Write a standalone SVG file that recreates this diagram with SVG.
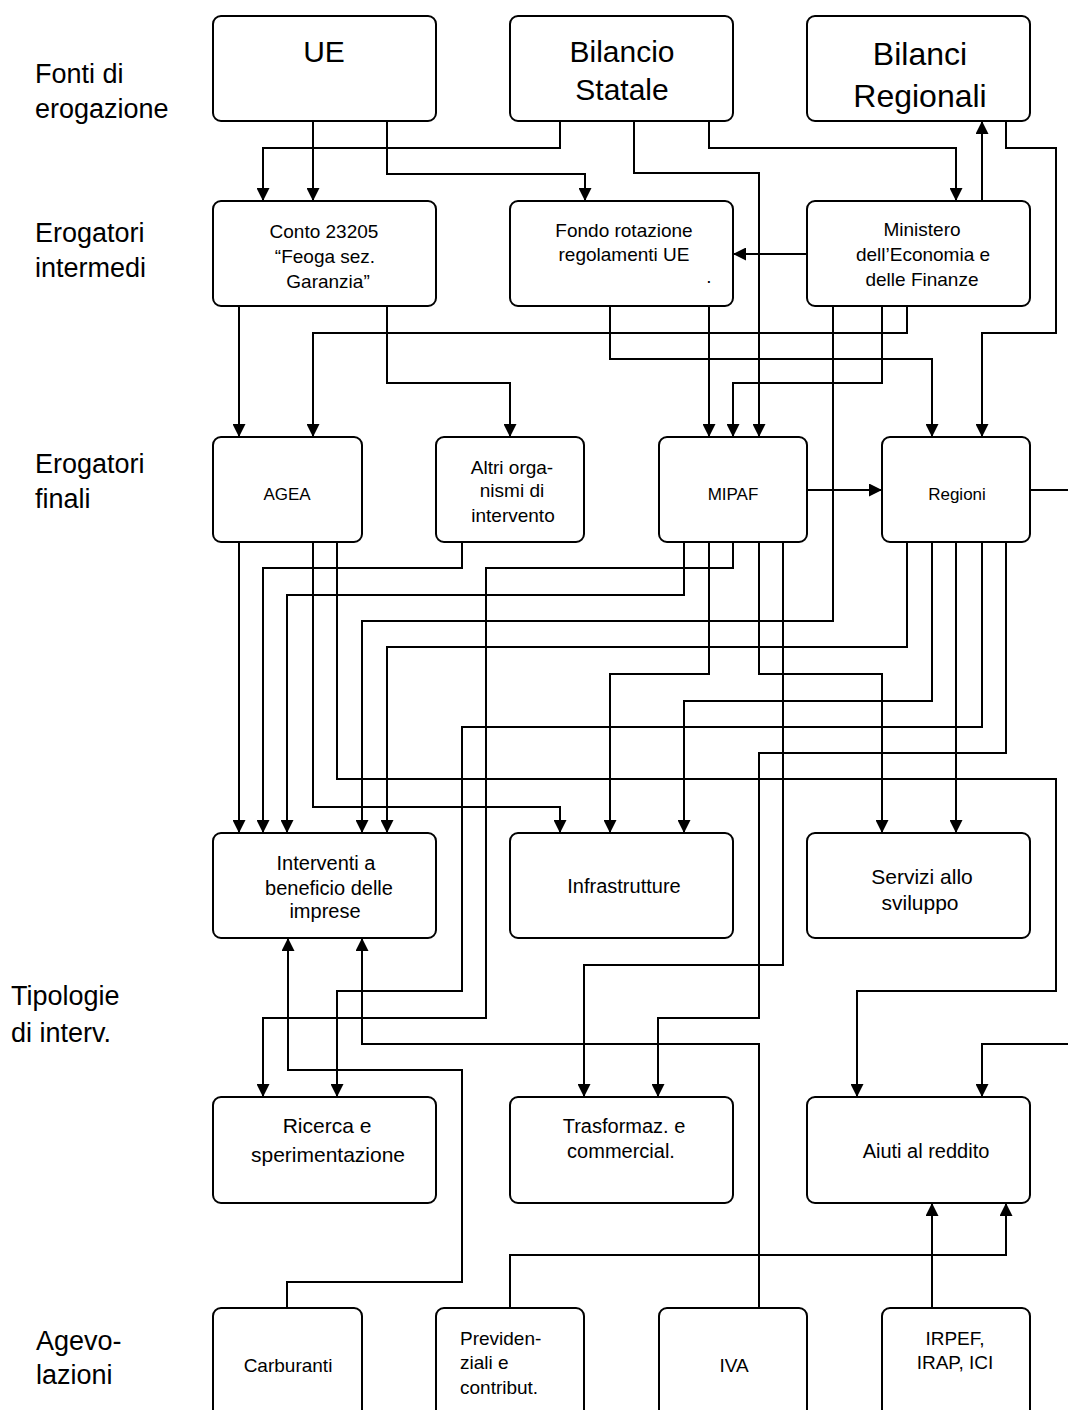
<svg xmlns="http://www.w3.org/2000/svg" width="1068" height="1410" viewBox="0 0 1068 1410">
  <style>
    .box { fill: #ffffff; stroke: #000000; stroke-width: 2; }
    .wire { fill: none; stroke: #000000; stroke-width: 2; }
    .arr { marker-end: url(#head); }
    text { font-family: "Liberation Sans", Arial, sans-serif; fill: #000000; }
    .lbl { font-size: 27px; }
    .big { font-size: 30px; text-anchor: middle; }
    .big2 { font-size: 32px; text-anchor: middle; }
    .mid { font-size: 19px; text-anchor: middle; }
    .sm { font-size: 17px; text-anchor: middle; }
    .t20 { font-size: 20px; text-anchor: middle; }
    .t21 { font-size: 21px; text-anchor: middle; }
  </style>
  <defs>
    <marker id="head" viewBox="0 0 13 13" markerWidth="13" markerHeight="13" refX="13" refY="6.5" orient="auto" markerUnits="userSpaceOnUse">
      <path d="M0,0 L13,6.5 L0,13 z" fill="#000000"/>
    </marker>
  </defs>

  <rect width="1068" height="1410" fill="#ffffff"/>

  <!-- row labels -->
  <g id="row-labels">
    <text class="lbl" x="35" y="83">Fonti di</text>
    <text class="lbl" x="35" y="118">erogazione</text>
    <text class="lbl" x="35" y="242">Erogatori</text>
    <text class="lbl" x="35" y="277">intermedi</text>
    <text class="lbl" x="35" y="473">Erogatori</text>
    <text class="lbl" x="35" y="508">finali</text>
    <text class="lbl" x="11" y="1005">Tipologie</text>
    <text class="lbl" x="11" y="1042">di interv.</text>
    <text class="lbl" x="36" y="1350">Agevo-</text>
    <text class="lbl" x="36" y="1384">lazioni</text>
  </g>

  <!-- connectors -->
  <g id="connectors">
    <path class="wire arr" d="M313,121 V201"/>
    <path class="wire arr" d="M560,121 V148 H263 V201"/>
    <path class="wire arr" d="M387,121 V174 H585 V201"/>
    <path class="wire arr" d="M634,121 V173 H759 V437"/>
    <path class="wire arr" d="M709,121 V148 H956 V201"/>
    <path class="wire arr" d="M982,201 V121"/>
    <path class="wire arr" d="M1006,121 V148 H1056 V333 H982 V437"/>
    <path class="wire arr" d="M807,254 H733"/>

    <path class="wire arr" d="M239,306 V437"/>
    <path class="wire arr" d="M387,306 V383 H510 V437"/>
    <path class="wire arr" d="M907,306 V333 H313 V437"/>
    <path class="wire arr" d="M610,306 V359 H932 V437"/>
    <path class="wire arr" d="M709,306 V437"/>
    <path class="wire arr" d="M882,306 V383 H733 V437"/>
    <path class="wire arr" d="M833,306 V621 H362 V833"/>
    <path class="wire arr" d="M807,490 H882"/>
    <path class="wire" d="M1030,490 H1068"/>

    <path class="wire arr" d="M239,542 V833"/>
    <path class="wire arr" d="M462,542 V568 H263 V833"/>
    <path class="wire arr" d="M733,542 V568 H486 V1018 H263 V1097"/>
    <path class="wire arr" d="M684,542 V595 H287 V833"/>
    <path class="wire arr" d="M907,542 V647 H387 V833"/>
    <path class="wire arr" d="M709,542 V674 H610 V833"/>
    <path class="wire arr" d="M759,542 V674 H882 V833"/>
    <path class="wire arr" d="M932,542 V701 H684 V833"/>
    <path class="wire arr" d="M956,542 V833"/>
    <path class="wire arr" d="M982,542 V727 H462 V991 H337 V1097"/>
    <path class="wire arr" d="M1006,542 V753 H759 V1018 H658 V1097"/>
    <path class="wire arr" d="M783,542 V965 H584 V1097"/>
    <path class="wire arr" d="M337,542 V779 H1056 V991 H857 V1097"/>
    <path class="wire arr" d="M313,542 V807 H560 V833"/>
    <path class="wire arr" d="M1068,1044 H982 V1097"/>

    <path class="wire arr" d="M287,1308 V1282 H462 V1070 H288 V938"/>
    <path class="wire arr" d="M759,1308 V1044 H362 V938"/>
    <path class="wire arr" d="M510,1308 V1255 H1006 V1203"/>
    <path class="wire arr" d="M932,1308 V1203"/>
  </g>

  <!-- sources -->
  <g id="ue">
    <rect class="box" x="213" y="16" width="223" height="105" rx="8"/>
    <text class="big" x="324" y="62">UE</text>
  </g>
  <g id="bilancio-statale">
    <rect class="box" x="510" y="16" width="223" height="105" rx="8"/>
    <text class="big" x="622" y="62">Bilancio</text>
    <text class="big" x="622" y="100">Statale</text>
  </g>
  <g id="bilanci-regionali">
    <rect class="box" x="807" y="16" width="223" height="105" rx="8"/>
    <text class="big2" x="920" y="65">Bilanci</text>
    <text class="big2" x="920" y="107">Regionali</text>
  </g>

  <!-- intermediate payers -->
  <g id="conto-23205">
    <rect class="box" x="213" y="201" width="223" height="105" rx="8"/>
    <text class="mid" x="324" y="238">Conto 23205</text>
    <text class="mid" x="325" y="263">“Feoga sez.</text>
    <text class="mid" x="328" y="288">Garanzia”</text>
  </g>
  <g id="fondo-rotazione">
    <rect class="box" x="510" y="201" width="223" height="105" rx="8"/>
    <text class="mid" x="624" y="237">Fondo rotazione</text>
    <text class="mid" x="624" y="261">regolamenti UE</text>
    <text class="mid" x="709" y="283">.</text>
  </g>
  <g id="ministero">
    <rect class="box" x="807" y="201" width="223" height="105" rx="8"/>
    <text class="mid" x="922" y="236">Ministero</text>
    <text class="mid" x="923" y="261">dell’Economia e</text>
    <text class="mid" x="922" y="286">delle Finanze</text>
  </g>

  <!-- final payers -->
  <g id="agea">
    <rect class="box" x="213" y="437" width="149" height="105" rx="8"/>
    <text class="sm" x="287" y="500">AGEA</text>
  </g>
  <g id="altri-organismi">
    <rect class="box" x="436" y="437" width="148" height="105" rx="8"/>
    <text class="mid" x="512" y="474">Altri orga-</text>
    <text class="mid" x="512" y="497">nismi di</text>
    <text class="mid" x="513" y="522">intervento</text>
  </g>
  <g id="mipaf">
    <rect class="box" x="659" y="437" width="148" height="105" rx="8"/>
    <text class="sm" x="733" y="500">MIPAF</text>
  </g>
  <g id="regioni">
    <rect class="box" x="882" y="437" width="148" height="105" rx="8"/>
    <text class="sm" x="957" y="500">Regioni</text>
  </g>

  <!-- intervention types -->
  <g id="interventi-imprese">
    <rect class="box" x="213" y="833" width="223" height="105" rx="8"/>
    <text class="t20" x="326" y="870">Interventi a</text>
    <text class="t20" x="329" y="895">beneficio delle</text>
    <text class="t20" x="325" y="918">imprese</text>
  </g>
  <g id="infrastrutture">
    <rect class="box" x="510" y="833" width="223" height="105" rx="8"/>
    <text class="t20" x="624" y="893">Infrastrutture</text>
  </g>
  <g id="servizi-sviluppo">
    <rect class="box" x="807" y="833" width="223" height="105" rx="8"/>
    <text class="t21" x="922" y="884">Servizi allo</text>
    <text class="t21" x="920" y="910">sviluppo</text>
  </g>
  <g id="ricerca">
    <rect class="box" x="213" y="1097" width="223" height="106" rx="8"/>
    <text class="t21" x="327" y="1133">Ricerca e</text>
    <text class="t21" x="328" y="1162">sperimentazione</text>
  </g>
  <g id="trasformazione">
    <rect class="box" x="510" y="1097" width="223" height="106" rx="8"/>
    <text class="t20" x="624" y="1133">Trasformaz. e</text>
    <text class="t20" x="621" y="1158">commercial.</text>
  </g>
  <g id="aiuti-reddito">
    <rect class="box" x="807" y="1097" width="223" height="106" rx="8"/>
    <text class="t20" x="926" y="1158">Aiuti al reddito</text>
  </g>

  <!-- tax and contribution relief -->
  <g id="carburanti">
    <rect class="box" x="213" y="1308" width="149" height="110" rx="8"/>
    <text class="mid" x="288" y="1372">Carburanti</text>
  </g>
  <g id="previdenziali">
    <rect class="box" x="436" y="1308" width="148" height="110" rx="8"/>
    <text class="mid" x="460" y="1345" text-anchor="start" style="text-anchor:start">Previden-</text>
    <text class="mid" x="460" y="1369" style="text-anchor:start">ziali e</text>
    <text class="mid" x="460" y="1394" style="text-anchor:start">contribut.</text>
  </g>
  <g id="iva">
    <rect class="box" x="659" y="1308" width="148" height="110" rx="8"/>
    <text class="mid" x="734" y="1372">IVA</text>
  </g>
  <g id="irpef-irap-ici">
    <rect class="box" x="882" y="1308" width="148" height="110" rx="8"/>
    <text class="mid" x="955" y="1345">IRPEF,</text>
    <text class="mid" x="955" y="1369">IRAP, ICI</text>
  </g>
</svg>
